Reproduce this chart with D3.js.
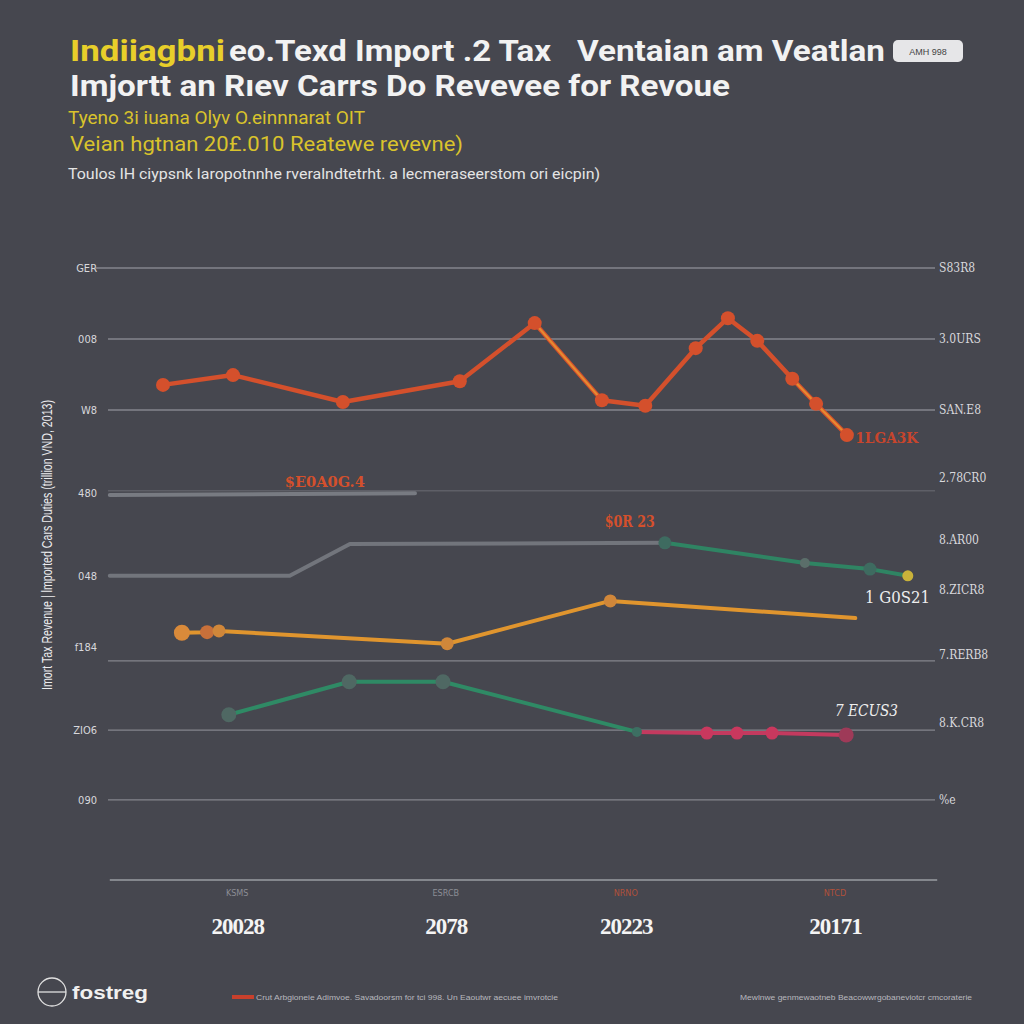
<!DOCTYPE html>
<html><head><meta charset="utf-8">
<script src="https://cdn.jsdelivr.net/npm/d3@7"></script>
<style>body{margin:0;background:#46474f}svg{display:block}</style>
</head><body><svg id="c" width="1024" height="1024"></svg>
<script>
// ---------- data ----------
const leftTickValues  = [100, 88.4, 76.8, 63.2, 49.7, 38.1, 24.5, 13.1];
const leftTickLabels  = ["GER", "008", "W8", "480", "048", "f184", "ZIO6", "090"];
const rightTickValues = [100, 88.4, 76.8, 65.8, 55.6, 47.4, 36.8, 25.7, 13.1];
const rightTickLabels = ["S83R8", "3.0URS", "SAN.E8", "2.78CR0", "8.AR00", "8.ZICR8", "7.RERB8", "8.K.CR8", "%e"];
const gridValues      = [100, 88.4, 76.8, 63.6, 35.8, 24.5, 13.1];
const yearTicks       = [19.6, 49.4, 75.1, 105];
const yearLabels      = ["20028", "2078", "20223", "20171"];
const yearSubLabels   = ["KSMS", "ESRCB", "NRNO", "NTCD"];

const redX    = [9.0, 19.0, 34.7, 51.4, 62.1, 71.7, 77.9, 85.1, 89.7, 93.9, 98.9, 102.3, 106.7];
const redY    = [80.9, 82.5, 78.1, 81.5, 91.0, 78.4, 77.5, 86.9, 91.8, 88.1, 81.9, 77.8, 72.7];
const orangeX = [11.7, 15.3, 17.0, 49.6, 72.9, 107.9];
const orangeY = [40.4, 40.5, 40.7, 38.6, 45.6, 42.8];
const greenX  = [18.4, 35.6, 49.0, 76.7];
const greenY  = [27.0, 32.4, 32.4, 24.2];
const pinkX   = [76.7, 86.7, 91.0, 96.0, 106.6];
const pinkY   = [24.2, 24.0, 24.0, 24.0, 23.7];
const grayAX  = [1.4, 45.0];
const grayAY  = [62.9, 63.2];
const grayBX  = [1.4, 27.1, 35.7, 80.7];
const grayBY  = [49.7, 49.7, 54.9, 55.1];
const tealX   = [80.7, 100.7, 110.0, 115.4];
const tealY   = [55.1, 51.8, 50.8, 49.7];

// ---------- setup ----------
const svg = d3.select("#c");
const x = d3.scaleLinear().domain([0, 120]).range([100, 940]);
const y = d3.scaleLinear().domain([0, 100]).range([880, 268]);
const pts = (xs, ys) => xs.map((v, i) => [x(v), y(ys[i])]);
const line = d3.line();

svg.append("rect").attr("width", 1024).attr("height", 1024).attr("fill", "#46474f");

// ---------- titles ----------
const T = svg.append("g").attr("font-family", "'Liberation Sans Narrow','Roboto','DejaVu Sans Condensed',sans-serif").attr("font-weight", "bold");
T.append("text").attr("x", 70).attr("y", 61).attr("font-size", 29).attr("fill", "#e8cf2a")
  .attr("textLength", 155).attr("lengthAdjust", "spacingAndGlyphs").text("Indiiagbni");
T.append("text").attr("x", 229).attr("y", 61).attr("font-size", 29).attr("fill", "#f2f2f2")
  .attr("textLength", 322).attr("lengthAdjust", "spacingAndGlyphs").text("eo.Texd Import .2 Tax");
T.append("text").attr("x", 577).attr("y", 61).attr("font-size", 29).attr("fill", "#f2f2f2")
  .attr("textLength", 308).attr("lengthAdjust", "spacingAndGlyphs").text("Ventaian am Veatlan");
T.append("text").attr("x", 70).attr("y", 96).attr("font-size", 29).attr("fill", "#f2f2f2")
  .attr("textLength", 660).attr("lengthAdjust", "spacingAndGlyphs").text("Imjortt an Rıev Carrs Do Revevee for Revoue");
// badge
svg.append("rect").attr("x", 893).attr("y", 40).attr("width", 70).attr("height", 22).attr("rx", 5).attr("fill", "#e6e6e8");
svg.append("text").attr("x", 928).attr("y", 55).attr("text-anchor", "middle").attr("font-size", 9)
  .attr("font-family", "'Liberation Sans Narrow',sans-serif").attr("fill", "#444").text("AMH 998");

const S = svg.append("g").attr("font-family", "'Liberation Sans Narrow','Roboto',sans-serif");
S.append("text").attr("x", 68).attr("y", 124).attr("font-size", 18).attr("fill", "#d9c32c")
  .attr("textLength", 297).attr("lengthAdjust", "spacingAndGlyphs").text("Tyeno 3i iuana Olyv O.einnnarat OIT");
S.append("text").attr("x", 70).attr("y", 151).attr("font-size", 20).attr("fill", "#d9c32c")
  .attr("textLength", 393).attr("lengthAdjust", "spacingAndGlyphs").text("Veian hgtnan 20£.010  Reatewe revevne)");
S.append("text").attr("x", 68).attr("y", 179).attr("font-size", 15).attr("fill", "#e4e4e4")
  .attr("textLength", 532).attr("lengthAdjust", "spacingAndGlyphs").text("Toulos lH ciypsnk laropotnnhe rveralndtetrht. a lecmeraseerstom ori eicpin)");

// ---------- grid ----------
svg.append("g").selectAll("line").data(gridValues).join("line")
  .attr("x1", (d, i) => i === 0 ? 95 : 108).attr("x2", 935)
  .attr("y1", d => y(d)).attr("y2", d => y(d))
  .attr("stroke", "#8b8d94").attr("stroke-width", 1.3)
  .attr("opacity", d => d === 63.6 ? 0.35 : 0.9);

// baseline
svg.append("line").attr("x1", x(1.4)).attr("x2", x(119.6)).attr("y1", y(0)).attr("y2", y(0))
  .attr("stroke", "#9a9ca2").attr("stroke-width", 1.5);

// ---------- axes ----------
const leftAxis = d3.axisLeft(y).tickValues(leftTickValues).tickSize(0).tickPadding(0)
  .tickFormat((d, i) => leftTickLabels[i]);
const gl = svg.append("g").attr("transform", "translate(97,0)").call(leftAxis);
gl.select(".domain").remove();
gl.selectAll("text").attr("font-size", 11).attr("fill", "#d8d8dc")
  .attr("font-family", "'DejaVu Sans Condensed',sans-serif");

const rightAxis = d3.axisRight(y).tickValues(rightTickValues).tickSize(0).tickPadding(0)
  .tickFormat((d, i) => rightTickLabels[i]);
const gr = svg.append("g").attr("transform", "translate(939,0)").call(rightAxis);
gr.select(".domain").remove();
gr.selectAll("text").attr("font-size", 12).attr("fill", "#d8d8dc")
  .attr("font-family", "'DejaVu Serif Condensed','Liberation Serif',serif");

const bottomAxis = d3.axisBottom(x).tickValues(yearTicks).tickSize(0).tickPadding(0)
  .tickFormat((d, i) => yearLabels[i]);
const gb = svg.append("g").attr("transform", "translate(0,918)").call(bottomAxis);
gb.select(".domain").remove();
gb.selectAll("text").attr("font-size", 23).attr("font-weight", "bold").attr("fill", "#f4f4f4")
  .attr("font-family", "'Liberation Serif','DejaVu Serif',serif").attr("letter-spacing", -1);

svg.append("g").selectAll("text").data(yearTicks).join("text")
  .attr("x", d => x(d)).attr("y", 896).attr("text-anchor", "middle")
  .attr("font-size", 9).attr("font-family", "'DejaVu Sans Condensed',sans-serif")
  .attr("fill", (d, i) => i < 2 ? "#8c8e96" : "#b0503a").text((d, i) => yearSubLabels[i]);

// y title
svg.append("text").attr("transform", "translate(52,545) rotate(-90)").attr("text-anchor", "middle")
  .attr("font-size", 14).attr("fill", "#ececee").attr("font-family", "'Liberation Sans Narrow',sans-serif")
  .attr("textLength", 290).attr("lengthAdjust", "spacingAndGlyphs")
  .text("Imort Tax Revenue | lmported Cars Duties (trillion VND, 2013)");

// ---------- series ----------
function series(xs, ys, color, w) {
  svg.append("path").attr("d", line(pts(xs, ys))).attr("fill", "none")
    .attr("stroke", color).attr("stroke-width", w).attr("stroke-linejoin", "round").attr("stroke-linecap", "round");
}
function dots(xs, ys, color, r, idx) {
  const p = pts(xs, ys).filter((d, i) => !idx || idx.includes(i));
  svg.append("g").selectAll("circle").data(p).join("circle")
    .attr("cx", d => d[0]).attr("cy", d => d[1]).attr("r", r).attr("fill", color);
}

series(grayAX, grayAY, "#787b82", 4);
series(grayBX, grayBY, "#72757c", 4);
series(tealX, tealY, "#2f8463", 4);
dots(tealX, tealY, "#3e6b60", 6.5, [0, 2]);
dots(tealX, tealY, "#5b6e6a", 5, [1]);
dots(tealX, tealY, "#c9b23a", 5.5, [3]);

series(redX, redY, "#d4502c", 4.5);
// lighter orange segments inside red line
[[4, 5], [10, 11], [11, 12]].forEach(([a, b]) => {
  svg.append("path").attr("d", line([[x(redX[a]), y(redY[a])], [x(redX[b]), y(redY[b])]]))
    .attr("stroke", "#e68a30").attr("stroke-width", 2.2).attr("fill", "none");
});
dots(redX, redY, "#d4502c", 7);

series(orangeX, orangeY, "#e0952e", 4);
dots(orangeX, orangeY, "#d98a3a", 8, [0]);
dots(orangeX, orangeY, "#c8703a", 7, [1]);
dots(orangeX, orangeY, "#d0873a", 6.5, [2, 3, 4]);

series(greenX, greenY, "#2f8a65", 4);
series(pinkX, pinkY, "#c43a5f", 4);
dots(greenX, greenY, "#4f6863", 7.5, [0, 1, 2]);
dots(greenX, greenY, "#3d6e62", 5, [3]);
dots(pinkX, pinkY, "#c9385e", 6.5, [1, 2, 3]);
dots(pinkX, pinkY, "#9e3a58", 7.5, [4]);

// ---------- annotations ----------
const ann = svg.append("g").attr("font-family", "'DejaVu Serif Condensed','Liberation Serif',serif").attr("font-weight", "bold");
ann.append("text").attr("x", x(26.4)).attr("y", 487).attr("font-size", 15).attr("fill", "#d4502c")
  .attr("textLength", 80).attr("lengthAdjust", "spacingAndGlyphs").text("$E0A0G.4");
ann.append("text").attr("x", x(72.1)).attr("y", 527).attr("font-size", 16).attr("fill", "#d4502c")
  .attr("textLength", 50).attr("lengthAdjust", "spacingAndGlyphs").text("$0R 23");
ann.append("text").attr("x", x(107.9)).attr("y", 443).attr("font-size", 15).attr("fill", "#c8452c")
  .attr("textLength", 63).attr("lengthAdjust", "spacingAndGlyphs").text("1LGA3K");
ann.append("text").attr("x", x(109.3)).attr("y", 603).attr("font-size", 17).attr("font-weight", "normal").attr("fill", "#eeeeee")
  .attr("textLength", 65).attr("lengthAdjust", "spacingAndGlyphs").text("1 G0S21");
ann.append("text").attr("x", x(105)).attr("y", 716).attr("font-size", 16).attr("font-weight", "normal").attr("font-style", "italic").attr("fill", "#eeeeee")
  .attr("textLength", 63).attr("lengthAdjust", "spacingAndGlyphs").text("7 ECUS3");

// ---------- footer ----------
const F = svg.append("g");
F.append("circle").attr("cx", 52).attr("cy", 992).attr("r", 14).attr("fill", "none").attr("stroke", "#e0e0e0").attr("stroke-width", 1.3);
F.append("line").attr("x1", 38).attr("x2", 66).attr("y1", 992).attr("y2", 992).attr("stroke", "#e0e0e0").attr("stroke-width", 1.3);
F.append("text").attr("x", 72).attr("y", 999).attr("font-size", 19).attr("font-weight", "bold").attr("fill", "#f0f0f0")
  .attr("font-family", "'Liberation Sans Narrow',sans-serif").attr("textLength", 76).attr("lengthAdjust", "spacingAndGlyphs").text("fostreg");
F.append("rect").attr("x", 232).attr("y", 995).attr("width", 22).attr("height", 4).attr("fill", "#c8402c");
F.append("text").attr("x", 256).attr("y", 1000).attr("font-size", 8).attr("fill", "#b8b8be")
  .attr("font-family", "'Liberation Sans Narrow',sans-serif").attr("textLength", 302).attr("lengthAdjust", "spacingAndGlyphs")
  .text("Crut Arbgioneie Adimvoe. Savadoorsm for tci 998. Un Eaoutwr aecuee imvrotcie");
F.append("text").attr("x", 740).attr("y", 1000).attr("font-size", 8).attr("fill", "#b8b8be")
  .attr("font-family", "'Liberation Sans Narrow',sans-serif").attr("textLength", 232).attr("lengthAdjust", "spacingAndGlyphs")
  .text("Mewlnwe genmewaotneb Beacowwrgobaneviotcr cmcoraterie");
</script></body></html>
